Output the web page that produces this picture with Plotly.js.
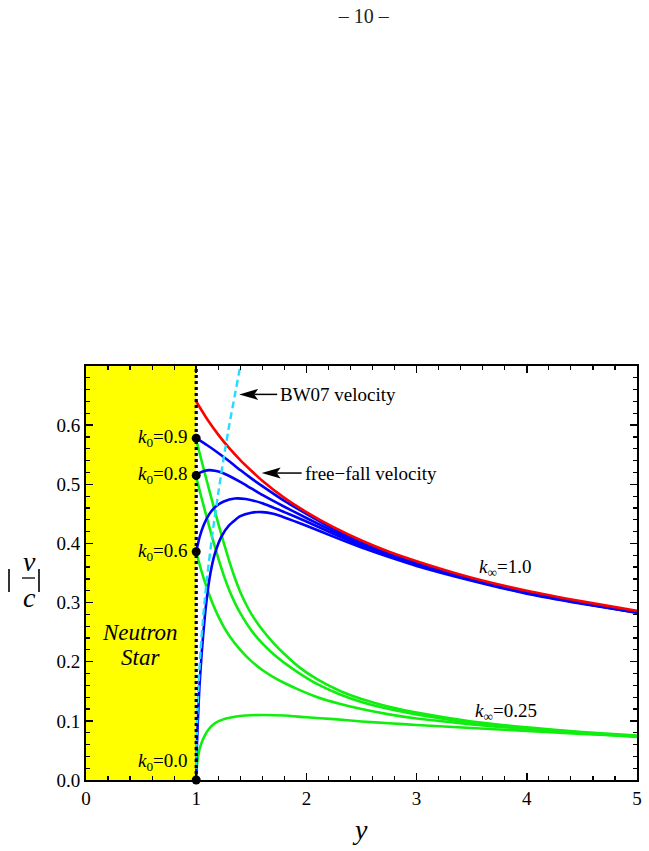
<!DOCTYPE html>
<html>
<head>
<meta charset="utf-8">
<script src="https://cdn.plot.ly/plotly-3.0.1.min.js"></script>
<style>
  html, body { margin: 0; padding: 0; background: #fff; }
  #chart { width: 649px; height: 851px; }
</style>
</head>
<body>
<div id="chart"></div>
<script>
// ---- data: |v/c| against y = r / R_star ----
const freeFallX = [1.0, 1.1, 1.2, 1.3, 1.4, 1.5, 1.6, 1.8, 2.0, 2.25, 2.5, 2.75, 3.0, 3.5, 4.0, 4.5, 5.0];
const freeFallY = [0.640, 0.610, 0.584, 0.561, 0.541, 0.523, 0.506, 0.477, 0.453, 0.427, 0.405, 0.386, 0.370, 0.342, 0.320, 0.302, 0.286];

const bw07X = [1.0, 1.003, 1.01, 1.02, 1.04, 1.07, 1.1, 1.15, 1.2, 1.25, 1.3, 1.35, 1.4, 1.42];
const bw07Y = [0.0, 0.06, 0.11, 0.155, 0.22, 0.29, 0.345, 0.42, 0.485, 0.545, 0.60, 0.65, 0.70, 0.72];

// k_inf = 1.0 family (blue)
const blueK09X = [1.0, 1.1, 1.2, 1.3, 1.4, 1.5, 1.6, 1.8, 2.0, 2.25, 2.5, 2.75, 3.0, 3.5, 4.0, 4.5, 5.0];
const blueK09Y = [0.578, 0.566, 0.553, 0.539, 0.524, 0.510, 0.497, 0.472, 0.450, 0.424, 0.402, 0.383, 0.367, 0.340, 0.318, 0.300, 0.284];
const blueK08X = [1.0, 1.04, 1.08, 1.12, 1.17, 1.23, 1.3, 1.4, 1.5, 1.6, 1.8, 2.0, 2.25, 2.5, 2.75, 3.0, 3.5, 4.0, 4.5, 5.0];
const blueK08Y = [0.515, 0.520, 0.523, 0.524, 0.523, 0.520, 0.514, 0.504, 0.493, 0.482, 0.462, 0.443, 0.420, 0.399, 0.381, 0.366, 0.339, 0.317, 0.299, 0.284];
const blueK06X = [1.0, 1.03, 1.07, 1.12, 1.18, 1.25, 1.35, 1.45, 1.6, 1.8, 2.0, 2.25, 2.5, 2.75, 3.0, 3.5, 4.0, 4.5, 5.0];
const blueK06Y = [0.386, 0.410, 0.432, 0.450, 0.463, 0.471, 0.476, 0.475, 0.468, 0.453, 0.437, 0.416, 0.396, 0.379, 0.364, 0.338, 0.316, 0.299, 0.283];
const blueK00X = [1.0, 1.005, 1.015, 1.03, 1.05, 1.08, 1.12, 1.17, 1.23, 1.3, 1.4, 1.5, 1.6, 1.7, 1.8, 2.0, 2.25, 2.5, 2.75, 3.0, 3.5, 4.0, 4.5, 5.0];
const blueK00Y = [0.0, 0.05, 0.10, 0.16, 0.215, 0.28, 0.34, 0.383, 0.412, 0.431, 0.446, 0.452, 0.453, 0.450, 0.444, 0.430, 0.411, 0.393, 0.377, 0.362, 0.337, 0.315, 0.298, 0.283];

// k_inf = 0.25 family (green)
const greenK09X = [1.0, 1.05, 1.1, 1.15, 1.2, 1.25, 1.3, 1.35, 1.4, 1.45, 1.5, 1.6, 1.7, 1.8, 1.94, 2.1, 2.3, 2.5, 2.75, 3.0, 3.5, 4.0, 4.5, 5.0];
const greenK09Y = [0.575, 0.539, 0.503, 0.468, 0.434, 0.401, 0.370, 0.342, 0.318, 0.298, 0.281, 0.254, 0.232, 0.213, 0.190, 0.170, 0.151, 0.137, 0.124, 0.114, 0.099, 0.089, 0.081, 0.075];
const greenK08X = [1.0, 1.05, 1.1, 1.15, 1.2, 1.25, 1.3, 1.35, 1.4, 1.5, 1.6, 1.7, 1.8, 1.94, 2.1, 2.3, 2.5, 2.75, 3.0, 3.5, 4.0, 4.5, 5.0];
const greenK08Y = [0.512, 0.476, 0.441, 0.407, 0.375, 0.346, 0.321, 0.300, 0.282, 0.253, 0.231, 0.213, 0.198, 0.180, 0.162, 0.145, 0.132, 0.120, 0.111, 0.097, 0.088, 0.080, 0.074];
const greenK06X = [1.0, 1.05, 1.1, 1.15, 1.2, 1.25, 1.3, 1.4, 1.5, 1.6, 1.7, 1.8, 1.94, 2.1, 2.3, 2.5, 2.75, 3.0, 3.5, 4.0, 4.5, 5.0];
const greenK06Y = [0.385, 0.352, 0.323, 0.298, 0.277, 0.259, 0.244, 0.220, 0.201, 0.186, 0.174, 0.164, 0.152, 0.140, 0.129, 0.120, 0.111, 0.104, 0.094, 0.086, 0.079, 0.073];
const greenK00X = [1.0, 1.003, 1.01, 1.02, 1.035, 1.055, 1.08, 1.11, 1.15, 1.2, 1.27, 1.35, 1.45, 1.6, 1.8, 2.0, 2.25, 2.5, 2.75, 3.0, 3.5, 4.0, 4.5, 5.0];
const greenK00Y = [0.0, 0.015, 0.030, 0.043, 0.055, 0.066, 0.076, 0.085, 0.093, 0.099, 0.104, 0.107, 0.109, 0.110, 0.109, 0.106, 0.103, 0.099, 0.096, 0.093, 0.088, 0.083, 0.078, 0.074];

// injection points at the stellar surface
const surfaceY = 1.0;
const k0Labels = ['0.9', '0.8', '0.6', '0.0'];
const k0StartV = [0.578, 0.515, 0.386, 0.0];
const k0LabelV = [0.578, 0.515, 0.386, 0.03];

const xTicks = [0, 1, 2, 3, 4, 5];
const yTicks = [0.0, 0.1, 0.2, 0.3, 0.4, 0.5, 0.6];

// ---- drawing ----
const SERIF = 'Liberation Serif, Times New Roman, serif';
const RED = '#ff0000', BLUE = '#0000ff', GREEN = '#10ee10', CYAN = '#22ddff';
const LW = 2.6;

function curve(x, y, color, extra) {
  return Object.assign({
    x: x, y: y, type: 'scatter', mode: 'lines', hoverinfo: 'skip',
    line: { color: color, width: LW, shape: 'spline', smoothing: 0.5 }
  }, extra || {});
}

const traces = [
  curve(greenK00X, greenK00Y, GREEN),
  curve(greenK06X, greenK06Y, GREEN),
  curve(greenK08X, greenK08Y, GREEN),
  curve(greenK09X, greenK09Y, GREEN),
  curve(blueK00X, blueK00Y, BLUE),
  curve(blueK06X, blueK06Y, BLUE),
  curve(blueK08X, blueK08Y, BLUE),
  curve(blueK09X, blueK09Y, BLUE),
  curve(freeFallX, freeFallY, RED),
  curve(bw07X, bw07Y, CYAN, { line: { color: CYAN, width: 2.4, dash: '7px,4px', shape: 'spline', smoothing: 0.5 } }),
  {
    x: k0StartV.map(() => surfaceY), y: k0StartV, type: 'scatter', mode: 'markers',
    marker: { color: '#000', size: 9 }, cliponaxis: false, hoverinfo: 'skip'
  }
];

// plot-area geometry (pixels) used to place the free-standing text
const M = { l: 86, r: 12, t: 366, b: 71 };
const PW = 649 - M.l - M.r, PH = 851 - M.t - M.b;
const px = v => (v - M.l) / PW;
const py = v => (851 - M.b - v) / PH;

const annFont = { family: SERIF, size: 19, color: '#000' };
const bigItalic = { family: SERIF, size: 28, color: '#000' };
const annotations = [];

k0Labels.forEach((lab, i) => {
  annotations.push({
    x: surfaceY, y: k0LabelV[i], xref: 'x', yref: 'y', xshift: -6,
    text: '<i>k</i><sub>0</sub>=' + lab, showarrow: false,
    xanchor: 'right', yanchor: 'middle', font: annFont
  });
});

// pointer labels: text starts at the tail of each arrow
const pointers = [
  { x: 1.39, y: 0.652, len: 38, text: 'BW07 velocity' },
  { x: 1.594, y: 0.519, len: 40, text: 'free\u2212fall velocity' }
];
pointers.forEach(p => {
  annotations.push({
    x: p.x, y: p.y, xref: 'x', yref: 'y', xshift: p.len + 1, text: p.text,
    showarrow: false, xanchor: 'left', yanchor: 'middle', font: annFont
  });
});

annotations.push(
  { x: 0.49, y: 0.25, xref: 'x', yref: 'y', text: '<i>Neutron</i>', showarrow: false,
    xanchor: 'center', font: { family: SERIF, size: 23, color: '#000' } },
  { x: 0.49, y: 0.207, xref: 'x', yref: 'y', text: '<i>Star</i>', showarrow: false,
    xanchor: 'center', font: { family: SERIF, size: 23, color: '#000' } },
  { x: 3.8, y: 0.358, xref: 'x', yref: 'y', text: '<i>k</i><sub>∞</sub>=1.0', showarrow: false,
    xanchor: 'center', font: annFont },
  { x: 3.81, y: 0.115, xref: 'x', yref: 'y', text: '<i>k</i><sub>∞</sub>=0.25', showarrow: false,
    xanchor: 'center', font: annFont },
  // axis titles
  { x: px(360), y: py(829), xref: 'paper', yref: 'paper', text: '<i>y</i>', showarrow: false,
    xanchor: 'center', yanchor: 'middle', font: bigItalic },
  { x: px(29), y: py(561), xref: 'paper', yref: 'paper', text: '<i>v</i>', showarrow: false,
    xanchor: 'center', yanchor: 'middle', font: bigItalic },
  { x: px(29), y: py(597), xref: 'paper', yref: 'paper', text: '<i>c</i>', showarrow: false,
    xanchor: 'center', yanchor: 'middle', font: bigItalic }
);

const shapes = [
  { type: 'rect', xref: 'x', yref: 'paper', x0: 0, x1: surfaceY, y0: 0, y1: 1,
    fillcolor: '#ffff00', line: { width: 0 }, layer: 'below' },
  { type: 'line', xref: 'x', yref: 'paper', x0: surfaceY, x1: surfaceY, y0: 0, y1: 1,
    line: { color: '#000', width: 3.2, dash: '3px,3px' }, layer: 'above' },
  // fraction bar and absolute-value bars of |v/c|
  { type: 'line', xref: 'paper', yref: 'paper', x0: px(22), x1: px(35), y0: py(578), y1: py(578),
    line: { color: '#000', width: 1.3 } },
  { type: 'line', xref: 'paper', yref: 'paper', x0: px(9), x1: px(9), y0: py(569), y1: py(592),
    line: { color: '#000', width: 1.6 } },
  { type: 'line', xref: 'paper', yref: 'paper', x0: px(39), x1: px(39), y0: py(569), y1: py(592),
    line: { color: '#000', width: 1.6 } }
];

// arrows: pixel-sized head plus shaft, anchored at the tip
pointers.forEach(p => {
  shapes.push({
    type: 'path', xref: 'x', yref: 'y', xsizemode: 'pixel', ysizemode: 'pixel',
    xanchor: p.x, yanchor: p.y, path: 'M0,0 L19,5.5 L15,0 L19,-5.5 Z',
    fillcolor: '#000', line: { width: 0 }, layer: 'above'
  });
  shapes.push({
    type: 'line', xref: 'x', yref: 'y', xsizemode: 'pixel', ysizemode: 'pixel',
    xanchor: p.x, yanchor: p.y, x0: 15, x1: p.len, y0: 0, y1: 0,
    line: { color: '#000', width: 1.5 }, layer: 'above'
  });
});

const axisCommon = {
  showgrid: false, zeroline: false, showline: true, linecolor: '#000', linewidth: 2,
  mirror: 'allticks', ticks: 'inside', ticklen: 7, tickwidth: 1.5, tickcolor: '#000',
  tickfont: { family: SERIF, size: 19, color: '#000' }, fixedrange: true
};

const layout = {
  width: 649, height: 851,
  margin: M,
  paper_bgcolor: '#fff', plot_bgcolor: '#fff',
  showlegend: false,
  title: { text: '\u2013 10 \u2013', x: 0.504, xref: 'paper', y: 1 - 16 / 851, yanchor: 'middle',
           font: { family: SERIF, size: 20, color: '#222' } },
  xaxis: Object.assign({}, axisCommon, {
    range: [0, 5], tickmode: 'array', tickvals: xTicks, ticktext: xTicks.map(String),
    minor: { dtick: 0.2, tick0: 0, ticks: 'inside', ticklen: 4, tickwidth: 1.2, tickcolor: '#000' }
  }),
  yaxis: Object.assign({}, axisCommon, {
    range: [0, 0.7], tickmode: 'array', tickvals: yTicks, ticktext: yTicks.map(v => v.toFixed(1)),
    minor: { dtick: 0.02, tick0: 0, ticks: 'inside', ticklen: 4, tickwidth: 1.2, tickcolor: '#000' }
  }),
  annotations: annotations,
  shapes: shapes
};

Plotly.newPlot('chart', traces, layout, { staticPlot: true, displayModeBar: false });
</script>
</body>
</html>
